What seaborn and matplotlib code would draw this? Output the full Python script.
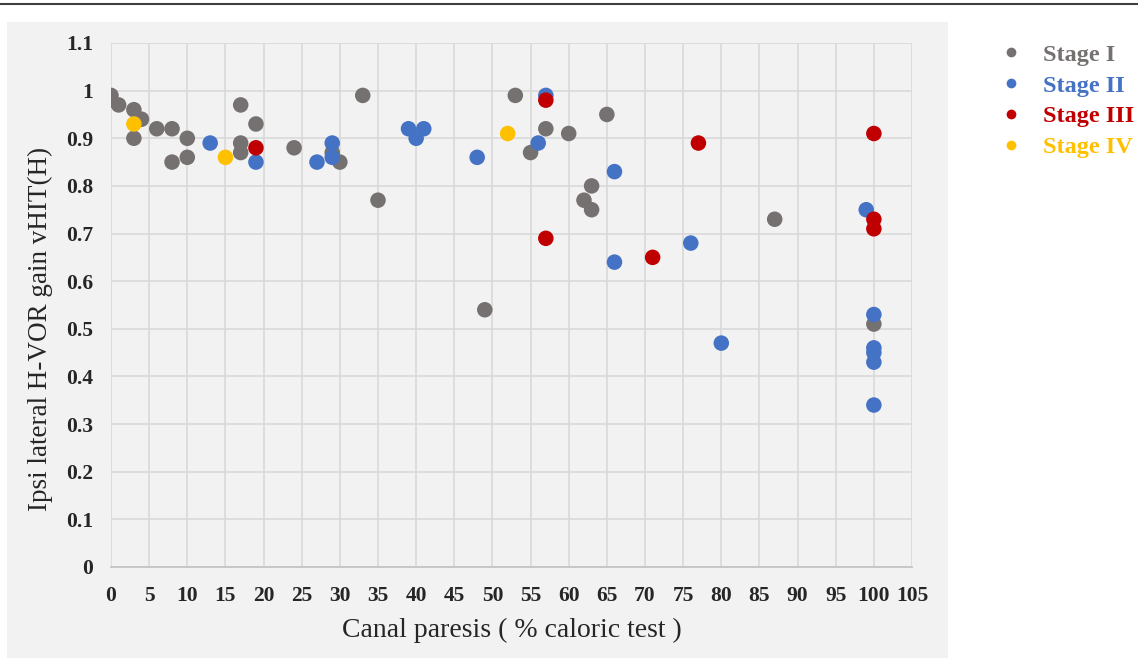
import numpy as np
import pandas as pd
import matplotlib
matplotlib.use("Agg")
import matplotlib.pyplot as plt
import seaborn as sns
from matplotlib.patches import Rectangle
from matplotlib.lines import Line2D

# Data (canal paresis %, ipsilateral gain)
stage1_x = [0, 0, 1, 3, 4, 3, 6, 8, 8, 10, 10, 17, 17, 17, 19, 24, 29, 30, 33, 35,
            49, 53, 55, 57, 60, 62, 63, 63, 65, 87, 100]
stage1_y = [0.99, 0.98, 0.97, 0.96, 0.94, 0.90, 0.92, 0.92, 0.85, 0.90, 0.86, 0.97,
            0.89, 0.87, 0.93, 0.88, 0.87, 0.85, 0.99, 0.77, 0.54, 0.99, 0.87, 0.92,
            0.91, 0.77, 0.80, 0.75, 0.95, 0.73, 0.51]
stage2_x = [13, 19, 27, 29, 29, 39, 40, 41, 48, 56, 57, 66, 66, 76, 80, 99,
            100, 100, 100, 100, 100]
stage2_y = [0.89, 0.85, 0.85, 0.89, 0.86, 0.92, 0.90, 0.92, 0.86, 0.89, 0.99, 0.83,
            0.64, 0.68, 0.47, 0.75, 0.53, 0.46, 0.45, 0.43, 0.34]
stage3_x = [19, 57, 57, 71, 77, 100, 100, 100]
stage3_y = [0.88, 0.98, 0.69, 0.65, 0.89, 0.91, 0.73, 0.71]
stage4_x = [3, 15, 52]
stage4_y = [0.93, 0.86, 0.91]

stages = ["Stage I", "Stage II", "Stage III", "Stage IV"]
colors = ["#767171", "#4472C4", "#C00000", "#FFC000"]

df = pd.DataFrame({
    "cp": stage1_x + stage2_x + stage3_x + stage4_x,
    "gain": stage1_y + stage2_y + stage3_y + stage4_y,
    "stage": (["Stage I"] * len(stage1_x) + ["Stage II"] * len(stage2_x)
              + ["Stage III"] * len(stage3_x) + ["Stage IV"] * len(stage4_x)),
})

sns.set_style("white")
plt.rcParams["font.family"] = ["Liberation Serif", "DejaVu Serif"]

fig = plt.figure(figsize=(11.38, 6.58), dpi=100)
# grey panel behind the plot
fig.patches.append(Rectangle((7 / 1138, 0), 941 / 1138, 1 - 22 / 658,
                             transform=fig.transFigure, facecolor="#F2F2F2",
                             edgecolor="none", zorder=-10))
# thin rule at the top
fig.add_artist(Line2D([0, 1], [1 - 4 / 658, 1 - 4 / 658], transform=fig.transFigure,
                      color="#404040", linewidth=1.5))

ax = fig.add_axes([111 / 1138, 1 - 567 / 658, (912 - 111) / 1138, (567 - 43) / 658])
ax.set_facecolor("#F2F2F2")

sns.scatterplot(data=df, x="cp", y="gain", hue="stage", hue_order=stages,
                palette=colors, s=125, edgecolor="none", legend=False, ax=ax, zorder=3)

ax.set_xlim(0, 105)
ax.set_ylim(0, 1.1)
ax.set_xticks(np.arange(0, 106, 5))
ax.set_yticks(np.arange(0, 1.11, 0.1))
ax.set_yticklabels(["0", "0.1", "0.2", "0.3", "0.4", "0.5", "0.6", "0.7", "0.8",
                    "0.9", "1", "1.1"])
ax.grid(True, color="#D9D9D9", linewidth=1.2, zorder=0)
ax.set_axisbelow(True)
for s in ax.spines.values():
    s.set_visible(False)
ax.spines["bottom"].set_visible(True)
ax.spines["bottom"].set_color("#C4C4C4")
ax.spines["bottom"].set_linewidth(1.3)
ax.tick_params(length=0, labelsize=15.5)
ax.tick_params(axis="x", pad=14)
ax.tick_params(axis="y", pad=13)
for lab in ax.get_xticklabels() + ax.get_yticklabels():
    lab.set_fontweight("bold")

ax.set_xlabel("Canal paresis ( % caloric test )", fontsize=20, labelpad=8)
ax.set_ylabel("Ipsi lateral H-VOR gain vHIT(H)", fontsize=19.5)
ax.yaxis.set_label_coords(-0.072, 0.455)

handles = [Line2D([], [], marker="o", linestyle="none", markersize=7,
                  markerfacecolor=c, markeredgecolor="none") for c in colors]
leg = fig.legend(handles, stages, loc="upper left",
                 bbox_to_anchor=(977 / 1138, 1 - 22 / 658), frameon=False,
                 prop={"size": 17.5, "weight": "bold"}, handletextpad=0.8,
                 labelspacing=0.36, handlelength=1.0)
for t, c in zip(leg.get_texts(), colors):
    t.set_color(c)

fig.savefig("out.png", dpi=100)
